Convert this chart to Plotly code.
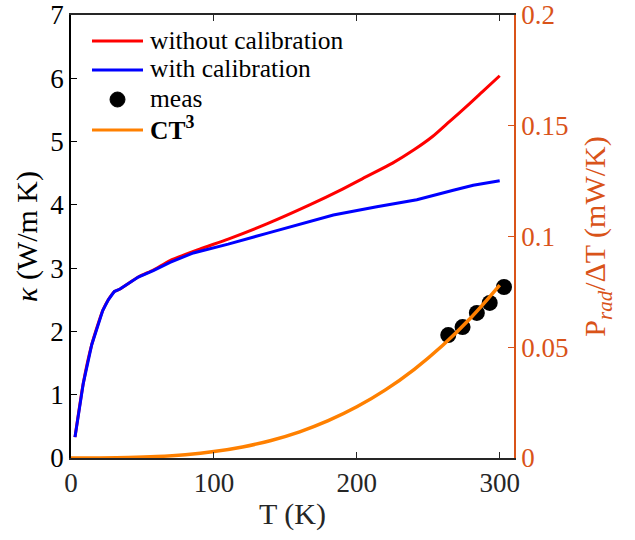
import plotly.graph_objects as go

# Data
T_red = [2.8, 8.6, 14.5, 22.2, 26.1, 30.3, 34.3, 47.1, 57.6, 69.3, 90, 110, 137, 167, 190, 207, 225, 240, 253, 265, 277, 288, 300]
kappa_red = [0.33, 1.18, 1.79, 2.33, 2.50, 2.63, 2.67, 2.86, 2.97, 3.12, 3.30, 3.46, 3.70, 4.00, 4.25, 4.45, 4.66, 4.87, 5.08, 5.32, 5.56, 5.79, 6.04]

T_blue = [2.8, 8.6, 14.5, 22.2, 26.1, 30.3, 34.3, 47.1, 57.6, 69.3, 85.6, 110, 137, 160, 183.6, 214, 242, 267.5, 281.5, 300]
kappa_blue = [0.33, 1.18, 1.79, 2.33, 2.50, 2.63, 2.67, 2.86, 2.96, 3.09, 3.24, 3.38, 3.55, 3.69, 3.84, 3.97, 4.08, 4.23, 4.31, 4.38]

T_meas = [264, 274, 284, 293, 303]
P_meas = [0.0555, 0.0591, 0.0655, 0.0700, 0.0772]

T_fit = [0, 20, 40, 60, 80, 100, 120, 140, 160, 180, 200, 220, 240, 260, 280, 300]
P_fit = [0.0, 0.000023, 0.000185, 0.000624, 0.00148, 0.00289, 0.00499, 0.00793, 0.01183,
         0.01685, 0.02311, 0.03076, 0.03994, 0.05078, 0.0634, 0.0780]

x_ticks = [0, 100, 200, 300]
y_ticks = [0, 1, 2, 3, 4, 5, 6, 7]
y2_ticks = [0, 0.05, 0.1, 0.15, 0.2]
y2_labels = ["0", "0.05", "0.1", "0.15", "0.2"]

legend_names = ["without calibration", "with calibration", "meas", "<b>CT<sup>3</sup></b>"]
legend_colors = ["#FF0000", "#0000FF", "black", "#FF8000"]

AX = "#262626"
ORG = "#D95319"
FONT = "'Liberation Serif', 'Times New Roman', Times, serif"

fig = go.Figure()
fig.add_trace(go.Scatter(x=T_red, y=kappa_red, mode="lines", name=legend_names[0],
                         line=dict(color=legend_colors[0], width=3, shape="spline", smoothing=0.6)))
fig.add_trace(go.Scatter(x=T_blue, y=kappa_blue, mode="lines", name=legend_names[1],
                         line=dict(color=legend_colors[1], width=3)))
fig.add_trace(go.Scatter(x=T_meas, y=P_meas, mode="markers", name=legend_names[2], yaxis="y2",
                         marker=dict(color=legend_colors[2], size=16)))
fig.add_trace(go.Scatter(x=T_fit, y=P_fit, mode="lines", name=legend_names[3], yaxis="y2",
                         line=dict(color=legend_colors[3], width=3.5, shape="spline")))

# Legend drawn as annotations + sample shapes (to match MATLAB's compact row spacing)
plot_l, plot_t, plot_w, plot_h = 71, 15, 443, 443
def px(xp):
    return (xp - plot_l) / plot_w
def py(yp):
    return (plot_t + plot_h - yp) / plot_h

row_y = [41, 70, 99.5, 130]
shapes = []
annotations = []
for i, (name, col) in enumerate(zip(legend_names, legend_colors)):
    yy = py(row_y[i])
    if i == 2:
        shapes.append(dict(type="circle", xref="paper", yref="paper",
                           x0=px(110), x1=px(125), y0=py(row_y[i] + 7.5), y1=py(row_y[i] - 7.5),
                           fillcolor=col, line=dict(color=col, width=1)))
    else:
        shapes.append(dict(type="line", xref="paper", yref="paper", x0=px(92), x1=px(143),
                           y0=yy, y1=yy, line=dict(color=col, width=3)))
    annotations.append(dict(text=name, xref="paper", yref="paper", x=px(148), y=py(row_y[i] - 1),
                            xanchor="left", yanchor="middle", showarrow=False,
                            font=dict(family=FONT, size=25.5, color="black")))

fig.update_layout(
    width=635, height=540,
    margin=dict(l=71, r=121, t=15, b=82, autoexpand=False),
    paper_bgcolor="white", plot_bgcolor="white",
    font=dict(family=FONT, size=22, color=AX),
    showlegend=False,
    shapes=shapes, annotations=annotations,
    xaxis=dict(range=[0, 310], tickvals=x_ticks, ticks="inside", ticklen=6, tickcolor=AX,
               showline=True, linecolor=AX, linewidth=1.5, mirror="ticks", showgrid=False,
               zeroline=False, automargin=False, tickfont=dict(family=FONT, size=27, color=AX),
               title=dict(text="T (K)", font=dict(family=FONT, size=30, color=AX), standoff=6)),
    yaxis=dict(range=[0, 7], tickvals=y_ticks, ticks="inside", ticklen=6, tickcolor="black",
               showline=True, linecolor="black", linewidth=1.5, showgrid=False, zeroline=False,
               automargin=False, tickfont=dict(family=FONT, size=27, color="black"),
               title=dict(text="<i>κ</i> (W/m K)", font=dict(family=FONT, size=30, color="black"), standoff=4)),
    yaxis2=dict(range=[0, 0.2], tickvals=y2_ticks, ticktext=y2_labels, overlaying="y", side="right",
                ticks="inside", ticklen=6, tickcolor=ORG, showline=True, linecolor=ORG, linewidth=1.5,
                showgrid=False, zeroline=False, automargin=False, tickfont=dict(family=FONT, size=27, color=ORG),
                title=dict(text="P<sub><i>rad</i></sub>/ΔT (mW/K)", font=dict(family=FONT, size=30, color=ORG), standoff=17)),
)

fig.write_html("out.html")
